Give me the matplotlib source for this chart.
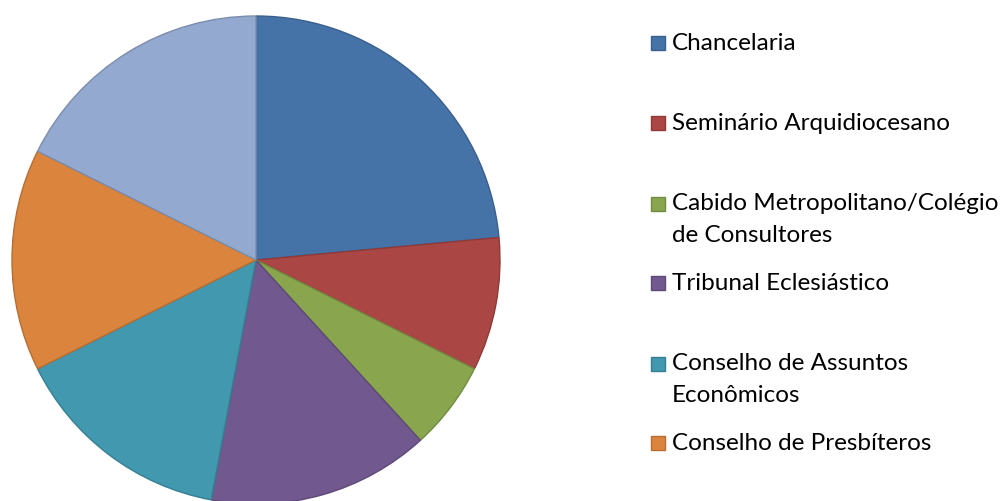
import matplotlib
matplotlib.use('Agg')
import matplotlib.pyplot as plt
from matplotlib.patches import Rectangle

# slice values, clockwise from 12 o'clock
values = [8, 3, 2, 5, 5, 5, 6]
labels = [
    'Chancelaria',
    'Seminário Arquidiocesano',
    'Cabido Metropolitano/Colégio\nde Consultores',
    'Tribunal Eclesiástico',
    'Conselho de Assuntos\nEconômicos',
    'Conselho de Presbíteros',
]
colors = ['#4572A7', '#AA4643', '#89A54E', '#71588F', '#4198AF', '#DB843D', '#93A9CF']
edges = ['#3A5F8C', '#8E3A38', '#728A41', '#5E4977', '#367F92', '#B66E33', '#7B8DAD']

W, H = 1003, 501
fig = plt.figure(figsize=(W / 100, H / 100), dpi=100)

cx, cy, r = 256, 260, 244
ax = fig.add_axes([(cx - r) / W, (H - cy - r) / H, 2 * r / W, 2 * r / H])
wedges, _ = ax.pie(values, colors=colors, startangle=90, counterclock=False,
                   radius=1.0, wedgeprops=dict(linewidth=1.0))
for w, ec in zip(wedges, edges):
    w.set_edgecolor(ec)
ax.set_xlim(-1, 1)
ax.set_ylim(-1, 1)
ax.set_aspect('equal')
ax.axis('off')

# legend drawn by hand to mimic the spreadsheet layout
item_y = [43, 123, 204, 283, 364, 443]
line_step = 32
box = 14
for lab, col, ec, y in zip(labels, colors, edges, item_y):
    fig.patches.append(Rectangle((651 / W, (H - y - box / 2) / H), box / W, box / H,
                                 transform=fig.transFigure, facecolor=col,
                                 edgecolor=ec, linewidth=1.0))
    for i, line in enumerate(lab.split('\n')):
        fig.text(672 / W, (H - y - i * line_step) / H, line, fontsize=17.5,
                 family='Lato', ha='left', va='center', color='black')

fig.savefig('out.png', dpi=100)
